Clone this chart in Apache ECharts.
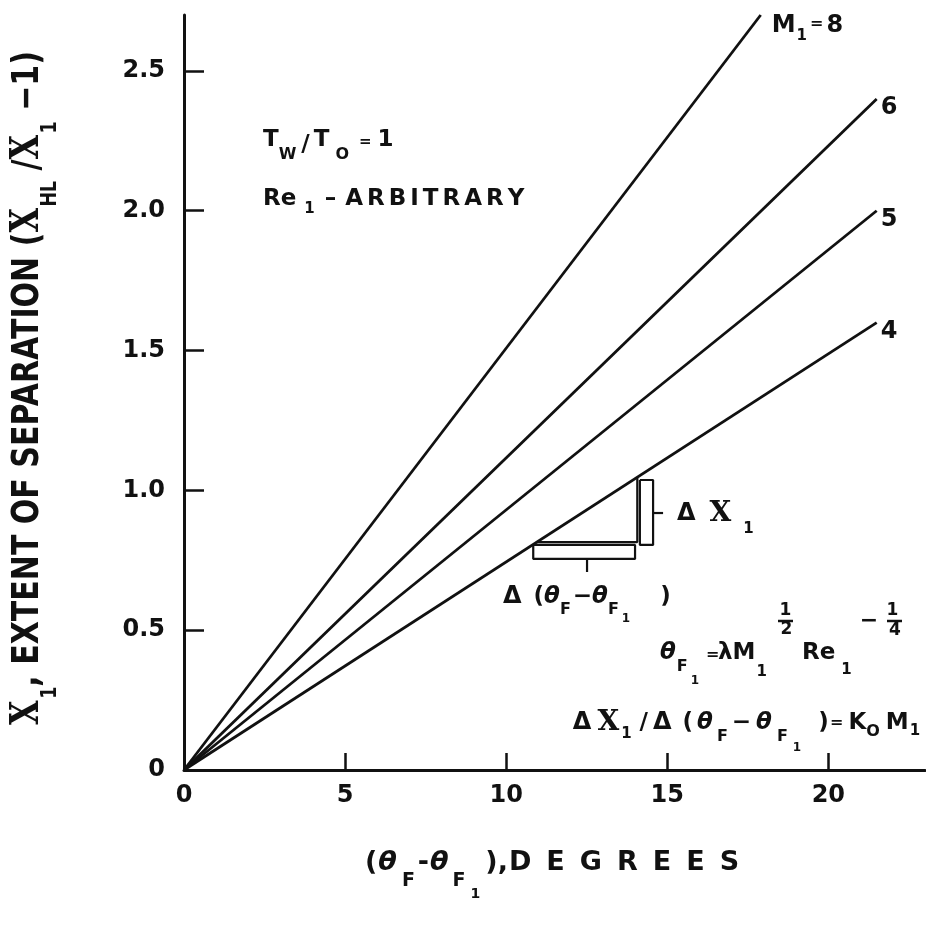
<!DOCTYPE html>
<html>
<head>
<meta charset="utf-8">
<script src="https://cdn.jsdelivr.net/npm/echarts@6/dist/echarts.min.js"></script>
<style>
html,body{margin:0;padding:0;background:#fff;}
#chart{width:926px;height:930px;}
</style>
</head>
<body>
<div id="chart"></div>
<script>
// ---------------- data ----------------
const machNumbers = [8, 6, 5, 4];
const endTheta = [17.9, 21.5, 21.5, 21.5];      // (theta_F - theta_F1), degrees, at line end
const endExtent = [2.70, 2.40, 2.00, 1.60];     // X1 at line end
const xTickValues = [0, 5, 10, 15, 20];
const yTickValues = [0, 0.5, 1.0, 1.5, 2.0, 2.5];

// slope-triangle annotation on the M1=4 line (data coordinates)
const triangleLegs = [[10.96, 0.815], [14.07, 0.815], [14.07, 1.047]];
const hBracket = [[10.84, 0.805], [10.84, 0.755], [14.0, 0.755], [14.0, 0.805], [10.84, 0.805]];
const hBracketTick = [[12.51, 0.755], [12.51, 0.708]];
const vBracket = [[14.15, 1.037], [14.56, 1.037], [14.56, 0.805], [14.15, 0.805], [14.15, 1.037]];
const vBracketTick = [[14.56, 0.919], [14.87, 0.919]];

// ---------------- styling helpers ----------------
const SANS = '"DejaVu Sans", sans-serif';
const SERIF = '"DejaVu Serif", "Liberation Serif", serif';
const INK = '#111';

function st(size, o) {
  return Object.assign({fontFamily: SANS, fontWeight: 'bold', fontSize: size, fill: INK, color: INK}, o || {});
}
// shifted token: d > 0 moves down, d < 0 moves up; pl / pr horizontal padding
function sh(size, d, pl, pr, o) {
  const top = d > 0 ? 2 * d : 0, bot = d < 0 ? -2 * d : 0;
  return st(size, Object.assign({padding: [top, pr || 0, bot, pl || 0]}, o || {}));
}
function letters(word, style) {
  return word.split('').map(c => '{' + style + '|' + c + '}').join('');
}
function txt(x, y, text, rich, extra) {
  extra = extra || {};
  const align = extra.align || 'left';
  const el = {
    type: 'text', x: x, y: y, z: 20, silent: true,
    style: {
      text: text, rich: rich || {}, fill: INK,
      fontFamily: SANS, fontWeight: 'bold', fontSize: extra.fontSize || 23,
      lineHeight: 30,
      align: align, verticalAlign: 'middle',
      textAlign: align, textVerticalAlign: 'middle'
    }
  };
  if (extra.rotation) el.rotation = extra.rotation;
  if (extra.scaleX) el.scaleX = extra.scaleX;
  return el;
}
function bar(x1, x2, y) {
  return {type: 'line', z: 20, silent: true, shape: {x1: x1, y1: y, x2: x2, y2: y}, style: {stroke: INK, lineWidth: 2.5}};
}

const IT = {fontStyle: 'italic'};
const BIGX = {fontFamily: SERIF, fontWeight: 'bold', fontSize: 28, fill: INK};

// ---------------- graphic texts ----------------
const graphics = [
  // y axis title (rotated)
  txt(28, 388,
    '{x|X}{s|1}{m|, EXTENT OF SEPARATION (}{x|X}{s|HL}{m| /}{x|X}{s|1}{m| \u22121)}',
    {
      x: {fontFamily: SERIF, fontWeight: 'bold', fontSize: 40, fill: INK},
      s: sh(22, 22, 2, 0),
      m: st(38)
    }, {align: 'center', rotation: Math.PI / 2, scaleX: 0.79}),

  // x axis title
  txt(365, 863,
    '{p|(}{th|\u03b8}{s|F}{h|-}{th|\u03b8}{s2|F}{ss|1}{pc|),}' + letters('DEGREES', 'w'),
    {
      p: st(27),
      th: st(27, Object.assign({padding: [0, 0, 0, 1]}, IT)),
      s: sh(19, 18, 5, 0),
      h: st(27, {padding: [0, 0, 0, 3]}),
      s2: sh(19, 18, 4, 0),
      ss: sh(14, 31, 5, 0),
      pc: st(27, {padding: [0, 1, 0, 5]}),
      w: st(27, {padding: [0, 15, 0, 0]})
    }),

  // T_W / T_O = 1
  txt(263, 140, '{m|T}{sW|W}{sl|/}{t2|T}{sO|O}{e|=}{one|1}', {
    m: st(23), sW: sh(16, 15, 0, 0), sl: sh(23, 5, 5, 0), t2: st(23, {padding: [0, 0, 0, 4]}),
    sO: sh(16, 15, 6, 0), e: sh(15, 2, 10, 0), one: st(23, {padding: [0, 0, 0, 6]})
  }),

  // Re_1 - ARBITRARY
  txt(263, 199, '{m|Re}{s|1}{d|\u2013}' + letters('ARBITRARY', 'L'), {
    m: st(23), s: sh(15, 10, 8, 0), d: st(23, {padding: [0, 9, 0, 10]}), L: st(23, {padding: [0, 4, 0, 0]})
  }),

  // ΔX_1 (triangle)
  txt(677, 514, '{d|\u0394}{x|X}{s|1}', {
    d: st(24, {padding: [0, 14, 0, 0]}),
    x: BIGX,
    s: sh(15, 15, 12, 0)
  }),

  // Δ(θF − θF1) (triangle)
  txt(503, 597, '{d|\u0394}{p|(}{th|\u03b8}{s|F}{m|\u2212}{th|\u03b8}{s|F}{ss|1}{p2|)}', {
    d: st(24, {padding: [0, 12, 0, 0]}), p: st(23), th: st(23, IT),
    s: sh(16, 13, 0, 0), m: st(23, {padding: [0, 0, 0, 2]}),
    ss: sh(12, 22, 3, 0), p2: st(23, {padding: [0, 0, 0, 30]})
  }),

  // formula 1: θF1 = λ M1^(1/2) Re1^(-1/4)
  txt(660, 653, '{th|\u03b8}{s|F}{ss|1}', {th: st(23, IT), s: sh(16, 14, 1, 0), ss: sh(12, 28, 3, 0)}),
  txt(706, 655, '{e|=}', {e: st(16)}),
  txt(718, 653, '{m|\u03bbM}{s|1}', {m: st(23), s: sh(15, 19, 1, 0)}),
  txt(785.5, 611, '{n|1}', {n: st(17)}, {align: 'center'}),
  bar(778, 793, 621),
  txt(786.5, 630, '{n|2}', {n: st(17)}, {align: 'center'}),
  txt(802, 653, '{m|Re}{s|1}', {m: st(23), s: sh(15, 17, 6, 0)}),
  txt(869, 621, '{n|\u2212}', {n: st(22)}, {align: 'center'}),
  txt(892.5, 611, '{n|1}', {n: st(17)}, {align: 'center'}),
  bar(887, 902, 621),
  txt(895, 631, '{n|4}', {n: st(17)}, {align: 'center'}),

  // formula 2: ΔX1 / Δ(θF − θF1) = K_O M1
  txt(648, 723, '{d|\u0394}{x|X}{s|1}{m|/}', {
    d: st(24, {padding: [0, 6, 0, 0]}),
    x: BIGX,
    s: sh(15, 11, 2, 8), m: st(23)
  }, {align: 'right'}),
  txt(653, 723, '{d|\u0394}{p|(}{th|\u03b8}{s|F}{mi|\u2212}{th2|\u03b8}{s2|F}{ss|1}{p2|)}', {
    d: st(24, {padding: [0, 11, 0, 0]}), p: st(23, {padding: [0, 4, 0, 0]}),
    th: st(23, IT), s: sh(16, 14, 4, 0), mi: st(23, {padding: [0, 0, 0, 4]}),
    th2: st(23, Object.assign({padding: [0, 0, 0, 5]}, IT)), s2: sh(16, 14, 5, 0),
    ss: sh(12, 25, 5, 0), p2: st(23, {padding: [0, 0, 0, 17]})
  }),
  txt(830, 723, '{e|=}{k|K}{o|O}{m|M}{s|1}', {
    e: st(16, {padding: [0, 5, 0, 0]}), k: st(23), o: sh(16, 9, 0, 6), m: st(23), s: sh(15, 8, 1, 0)
  })
];

// ---------------- series ----------------
const lineRich = {
  m: {fontFamily: SANS, fontWeight: 'bold', fontSize: 24, color: INK},
  s: {fontFamily: SANS, fontWeight: 'bold', fontSize: 15, color: INK, padding: [20, 0, 0, 1]},
  e: {fontFamily: SANS, fontWeight: 'bold', fontSize: 16, color: INK, padding: [0, 3, 4, 3]}
};
const series = machNumbers.map((m, i) => ({
  type: 'line',
  name: 'M1=' + m,
  clip: false,
  silent: true,
  symbol: 'circle', symbolSize: 0, showSymbol: true,
  lineStyle: {color: INK, width: 2.8},
  itemStyle: {color: INK},
  label: {show: false},
  data: [
    [0, 0],
    {
      value: [endTheta[i], endExtent[i]],
      label: {
        show: true, position: 'right', distance: 5,
        offset: i === 0 ? [6, 11] : [-1, 9],
        formatter: () => i === 0 ? '{m|M}{s|1}{e|=}{m|' + m + '}' : '{m|' + m + '}',
        rich: lineRich
      }
    }
  ],
  z: 3
}));

function annot(data) {
  return {
    type: 'line', data: data, clip: false, silent: true, symbol: 'none',
    lineStyle: {color: INK, width: 2.2}, z: 4
  };
}
series.push(annot(triangleLegs), annot(hBracket), annot(hBracketTick), annot(vBracket), annot(vBracketTick));

const axisFont = {fontFamily: SANS, fontWeight: 'bold', fontSize: 24, color: INK};

const option = {
  animation: false,
  backgroundColor: '#fff',
  grid: {left: 184, right: 1, top: 15, bottom: 160, containLabel: false},
  xAxis: {
    type: 'value', min: 0, max: 23, interval: 5,
    axisLine: {show: true, onZero: false, lineStyle: {color: INK, width: 3}},
    axisTick: {show: true, inside: true, length: 17, lineStyle: {color: INK, width: 2.5}, customValues: [5, 10, 15, 20]},
    axisLabel: Object.assign({show: true, margin: 14, customValues: xTickValues, formatter: v => String(v)}, axisFont),
    splitLine: {show: false}
  },
  yAxis: {
    type: 'value', min: 0, max: 2.7, interval: 0.5,
    axisLine: {show: true, onZero: false, lineStyle: {color: INK, width: 3}},
    axisTick: {show: true, inside: true, length: 20, lineStyle: {color: INK, width: 2.5}, customValues: [0.5, 1, 1.5, 2, 2.5]},
    axisLabel: Object.assign({show: true, margin: 19, customValues: yTickValues, formatter: v => v === 0 ? '0' : v.toFixed(1)}, axisFont),
    splitLine: {show: false}
  },
  series: series,
  graphic: graphics
};

const chart = echarts.init(document.getElementById('chart'), null, {renderer: 'canvas'});
chart.setOption(option);
</script>
</body>
</html>
